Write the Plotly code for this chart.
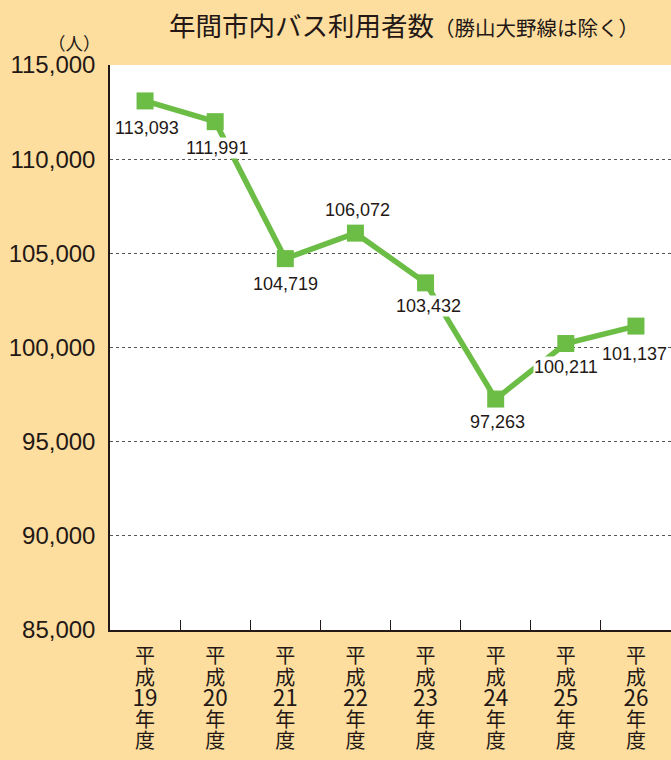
import plotly.graph_objects as go

years = ["19", "20", "21", "22", "23", "24", "25", "26"]
riders = [113093, 111991, 104719, 106072, 103432, 97263, 100211, 101137]
y_ticks = [85000, 90000, 95000, 100000, 105000, 110000, 115000]

# label offsets (pixels) for the value labels
label_dx = [2, 2, 0, 2, 3, 2, 0, -1]
label_dy = [-27, -26, -25, 23, -23, -23, -23, -28]

GREEN = "#6CBD45"
TEXT = "#231815"
BG = "#FEDE9F"
FONT = "Liberation Sans, Arial, Noto Sans CJK JP, sans-serif"


def cjk(ch):
    return f"<span style='font-size:20px'>{ch}</span>"


cats = [
    "<br>".join([cjk("平"), cjk("成"), f"<span style='font-size:22.5px'>{y}</span>", cjk("年"), cjk("度")])
    for y in years
]

fig = go.Figure()
fig.add_trace(go.Scatter(
    x=cats, y=riders, mode="lines+markers",
    line=dict(color=GREEN, width=5.5),
    marker=dict(symbol="square", size=17, color=GREEN),
    hoverinfo="skip", showlegend=False,
))

for c, v, dx, dy in zip(cats, riders, label_dx, label_dy):
    fig.add_annotation(
        x=c, y=v, xref="x", yref="y", text=f"{v:,}", showarrow=False,
        xshift=dx, yshift=dy, bgcolor="white", borderpad=0,
        font=dict(size=18, color=TEXT, family=FONT),
    )

L, R, T, B = 110, 0, 65, 130
W, H = 671, 760
pw, ph = W - L - R, H - T - B


def px(xp):
    return (xp - L) / pw


def py(yp):
    return (H - B - yp) / ph


fig.add_annotation(
    x=px(167), y=py(25), xref="paper", yref="paper", xanchor="left", yanchor="middle",
    showarrow=False,
    text="年間市内バス利用者数<span style='font-size:20.5px'>（勝山大野線は除く）</span>",
    font=dict(size=26.5, color=TEXT, family="Noto Sans CJK JP, sans-serif"),
)
fig.add_annotation(
    x=px(103), y=py(42), xref="paper", yref="paper", xanchor="right", yanchor="middle",
    showarrow=False, text="（人）",
    font=dict(size=17.5, color=TEXT, family="Noto Sans CJK JP, sans-serif"),
)

fig.update_layout(
    width=W, height=H,
    margin=dict(l=L, r=R, t=T, b=B, pad=0),
    paper_bgcolor=BG, plot_bgcolor="white",
    font=dict(family=FONT, color=TEXT),
)
fig.update_xaxes(
    type="category", range=[-0.5, 7.5], tickson="boundaries",
    ticks="inside", ticklen=10, tickcolor=TEXT, tickwidth=1,
    showline=True, linecolor=TEXT, linewidth=1.5,
    showgrid=False,
    tickfont=dict(size=16.3, color=TEXT, family="Noto Sans CJK JP, Liberation Sans, sans-serif"),
    ticklabelstandoff=12,
)
fig.update_yaxes(
    range=[85000, 115000], tickvals=y_ticks, ticktext=[f"{v:,}" for v in y_ticks],
    showline=True, linecolor=TEXT, linewidth=1.5,
    showgrid=True, gridcolor="#555555", gridwidth=1, griddash="dot",
    zeroline=False, ticks="", tickfont=dict(size=24, color=TEXT, family=FONT),
    ticklabelstandoff=8,
)

fig.write_html(
    "out.html",
    config={"displayModeBar": False},
    post_script="document.body.style.margin='0';document.body.style.padding='0';document.body.style.overflow='hidden';",
)
